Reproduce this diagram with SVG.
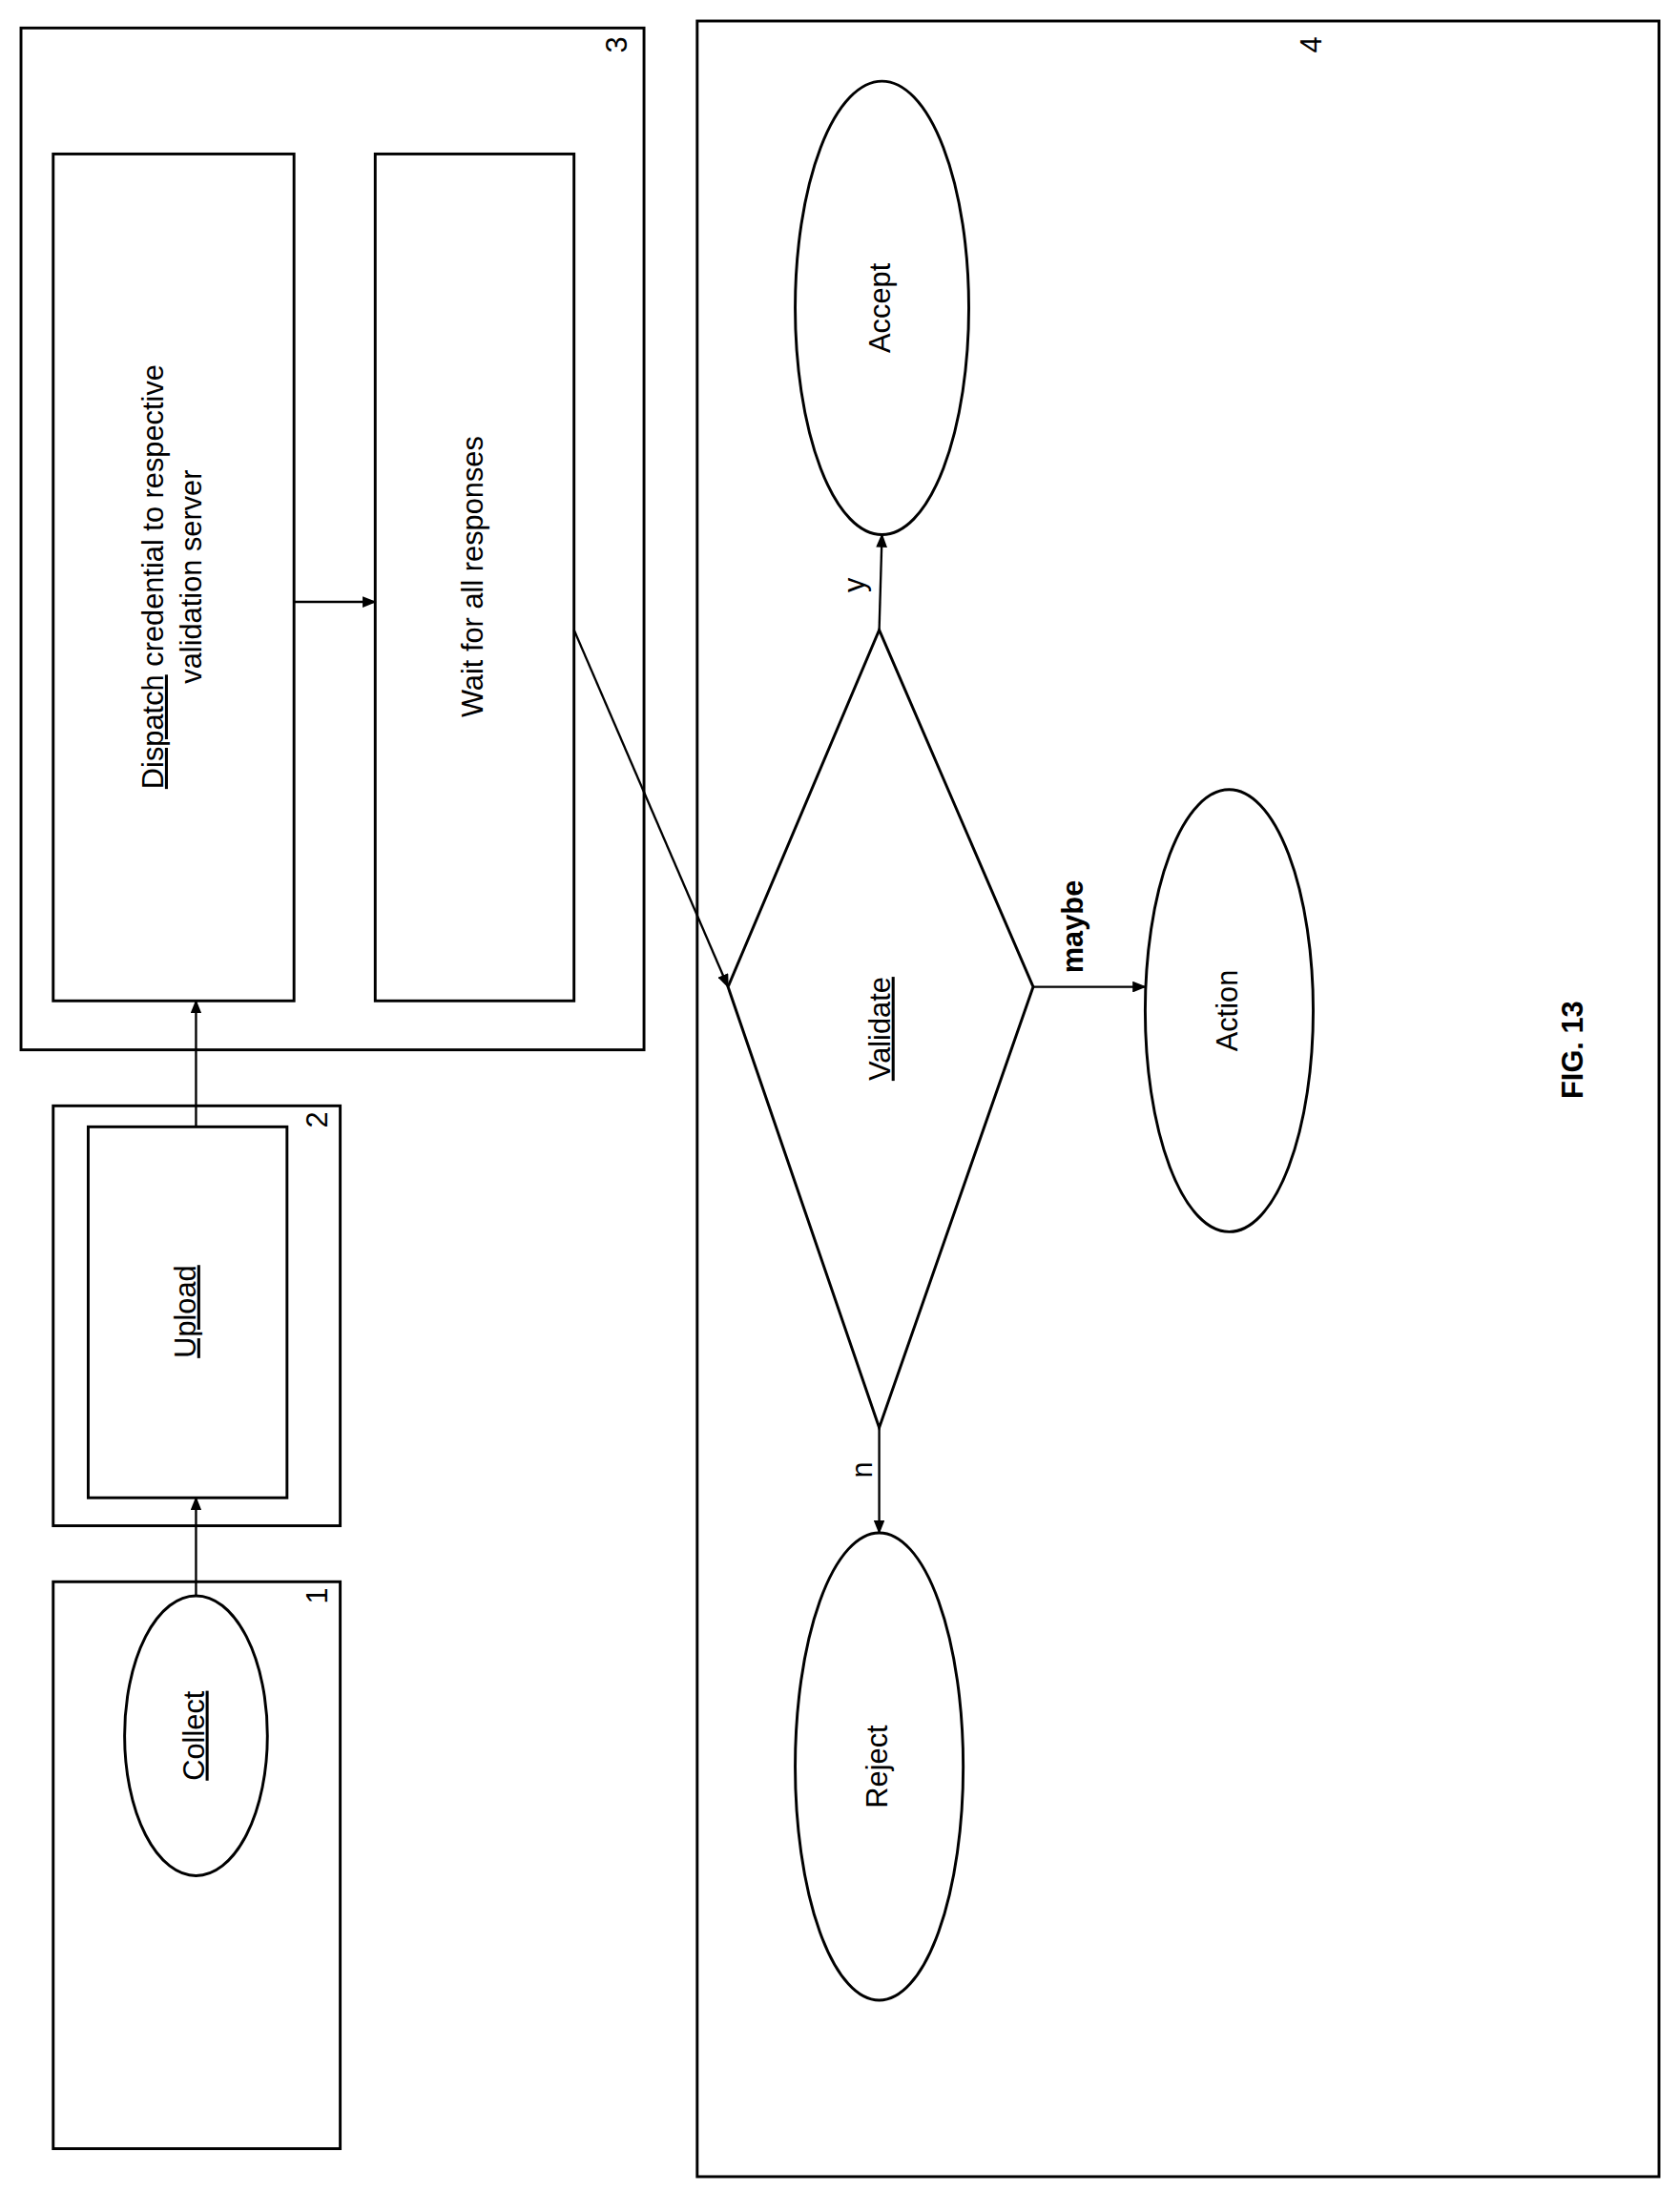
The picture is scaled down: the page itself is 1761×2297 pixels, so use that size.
<svg xmlns="http://www.w3.org/2000/svg" width="1761" height="2297" viewBox="0 0 1761 2297">
<defs>
<marker id="ah" markerWidth="10" markerHeight="8" refX="9" refY="4" orient="auto" markerUnits="userSpaceOnUse"><path d="M0,0 L10,4 L0,8 Z" fill="#000"/></marker>
<style>
.b{fill:#fff;stroke:#000;stroke-width:2}
.t{font-family:"Liberation Sans",Arial,sans-serif;font-size:21px;fill:#000;text-anchor:middle;dominant-baseline:middle}
.c{stroke:#000;stroke-width:1.6;fill:none;marker-end:url(#ah)}
</style>
</defs>
<rect width="1761" height="2297" fill="#fff"/>
<g transform="scale(1.4675)">
<g id="box1"><rect class="b" x="38" y="1130" width="205" height="405"/><text class="t" transform="translate(228,1140) rotate(-90)">1</text>
<ellipse class="b" cx="140" cy="1240" rx="51" ry="100"/><text class="t" text-decoration="underline" transform="translate(140,1240) rotate(-90)">Collect</text></g>
<g id="box2"><rect class="b" x="38" y="790" width="205" height="300"/><text class="t" transform="translate(228,800) rotate(-90)">2</text>
<rect class="b" x="63" y="805" width="142" height="265"/><text class="t" text-decoration="underline" transform="translate(134,937) rotate(-90)">Upload</text></g>
<g id="box3"><rect class="b" x="15" y="20" width="445" height="730"/><text class="t" transform="translate(442,32) rotate(-90)">3</text>
<rect class="b" x="38" y="110" width="172" height="605"/>
<text class="t" transform="translate(124,412) rotate(-90)"><tspan x="0" dy="-13"><tspan text-decoration="underline">Dispatch</tspan> credential to respective</tspan><tspan x="0" dy="27">validation server</tspan></text>
<rect class="b" x="268" y="110" width="142" height="605"/><text class="t" transform="translate(339,412) rotate(-90)">Wait for all responses</text></g>
<g id="box4"><rect class="b" x="498" y="15" width="687" height="1540"/><text class="t" transform="translate(938,32) rotate(-90)">4</text></g>
<g id="accept"><ellipse class="b" cx="630" cy="220" rx="62" ry="162"/><text class="t" transform="translate(630,220) rotate(-90)">Accept</text></g>
<g id="validate"><polygon class="b" points="628,450 738,705 628,1020 520,705"/><text class="t" text-decoration="underline" transform="translate(630,735) rotate(-90)">Validate</text></g>
<g id="action"><ellipse class="b" cx="878" cy="722" rx="60" ry="158"/><text class="t" transform="translate(878,722) rotate(-90)">Action</text></g>
<g id="reject"><ellipse class="b" cx="628" cy="1262" rx="60" ry="167"/><text class="t" transform="translate(628,1262) rotate(-90)">Reject</text></g>
<g id="connectors">
<line class="c" x1="140" y1="1140" x2="140" y2="1070"/>
<line class="c" x1="140" y1="805" x2="140" y2="715"/>
<line class="c" x1="210" y1="430" x2="268" y2="430"/>
<line class="c" x1="410" y1="450" x2="520" y2="705"/>
<line class="c" x1="628" y1="450" x2="630" y2="382"/>
<line class="c" x1="628" y1="1020" x2="628" y2="1095"/>
<line class="c" x1="738" y1="705" x2="818" y2="705"/>
<text class="t" transform="translate(612,418) rotate(-90)">y</text>
<text class="t" transform="translate(617,1050) rotate(-90)">n</text>
<text class="t" font-weight="bold" transform="translate(768,662) rotate(-90)">maybe</text>
</g>
<text class="t" font-weight="bold" font-size="40" transform="translate(1125,750) rotate(-90)">FIG. 13</text>
</g>
</svg>
